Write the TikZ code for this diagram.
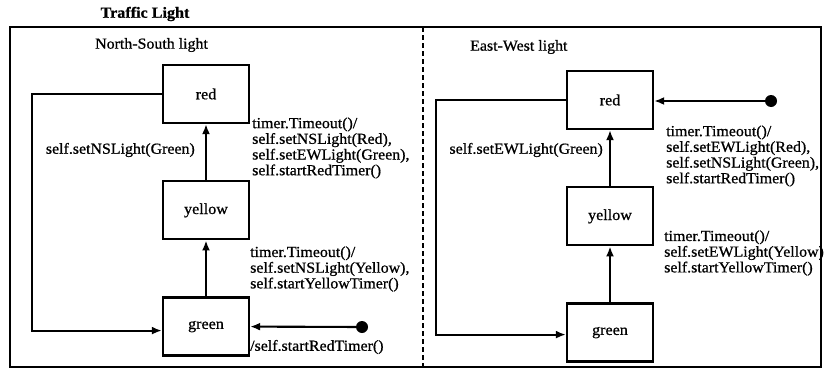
\documentclass[tikz,border=0pt]{standalone}
\usepackage{fontspec}
\setmainfont[FakeStretch=1.04, FakeBold=0.8]{Liberation Serif}
\usetikzlibrary{arrows.meta,positioning}
\tikzset{
  % state box
  statebox/.style={
    rectangle, draw, line width=2.3pt,
    minimum width=86pt, minimum height=58pt,
    font=\fontsize{15.5}{16}\selectfont, inner sep=2pt
  },
  % transitions
  arr/.style={-{Latex[length=10pt,width=8pt]}, line width=2.1pt},
  % initial state dot
  initdot/.style={circle, fill, inner sep=0pt, minimum size=12pt},
  % transition label
  tlabel/.style={font=\fontsize{15.3}{15.7}\selectfont, align=left,
    anchor=west, inner sep=0pt},
}

\begin{document}
\begin{tikzpicture}[x=1pt, y=-1pt, node distance=56pt]
  \useasboundingbox (0,0) rectangle (825,372);

  \node[font=\bfseries\fontsize{15.5}{16}\selectfont] (title) at (145,14) {Traffic Light};
  \draw[line width=2pt] (10,27) rectangle (821,367);
  \coordinate (divtop) at (423,27);
  \coordinate (divbot) at (423,367);
  \draw[line width=2.2pt, dash pattern=on 5pt off 3pt] (divtop) -- (divbot);

  %% North-South light
  \node[tlabel] (nstitle) at (95,45) {North-South light};
  \node[statebox] (nsred) at (206,94) {red};
  \node[statebox, below=of nsred] (nsyellow) {yellow};
  \node[statebox, below=of nsyellow] (nsgreen) {green};
  \node[initdot] (nsinit) at (362,327) {};

  \draw[arr] (nsgreen) -- (nsyellow);
  \draw[arr] (nsyellow) -- (nsred);
  \draw[arr] (nsred.west) -- ++(-130,0) |- ([yshift=-4pt]nsgreen.west);
  \draw[arr] (nsinit) -- (nsgreen.east);

  \node[tlabel, anchor=east] (nsgo) at (195,150) {self.setNSLight(Green)};
  \node[tlabel] (nsstop) at (252,148)
    {timer.Timeout()/\\self.setNSLight(Red),\\self.setEWLight(Green),\\self.startRedTimer()};
  \node[tlabel] (nswarn) at (250,269)
    {timer.Timeout()/\\self.setNSLight(Yellow),\\self.startYellowTimer()};
  \node[tlabel] (nsstart) at (250,347) {/self.startRedTimer()};

  %% East-West light
  \node[tlabel] (ewtitle) at (470,47) {East-West light};
  \node[statebox] (ewred) at (610,100) {red};
  \node[statebox, below=of ewred] (ewyellow) {yellow};
  \node[statebox, below=of ewyellow] (ewgreen) {green};
  \node[initdot] (ewinit) at (771,101) {};

  \draw[arr] (ewgreen) -- (ewyellow);
  \draw[arr] (ewyellow) -- (ewred);
  \draw[arr] (ewred.west) -- ++(-130,0) |- ([yshift=-2pt]ewgreen.west);
  \draw[arr] (ewinit) -- (ewinit -| ewred.east);

  \node[tlabel, anchor=east] (ewgo) at (603,150) {self.setEWLight(Green)};
  \node[tlabel] (ewstop) at (666,156)
    {timer.Timeout()/\\self.setEWLight(Red),\\self.setNSLight(Green),\\self.startRedTimer()};
  \node[tlabel] (ewwarn) at (664,253)
    {timer.Timeout()/\\self.setEWLight(Yellow)\\self.startYellowTimer()};

\end{tikzpicture}
\end{document}
